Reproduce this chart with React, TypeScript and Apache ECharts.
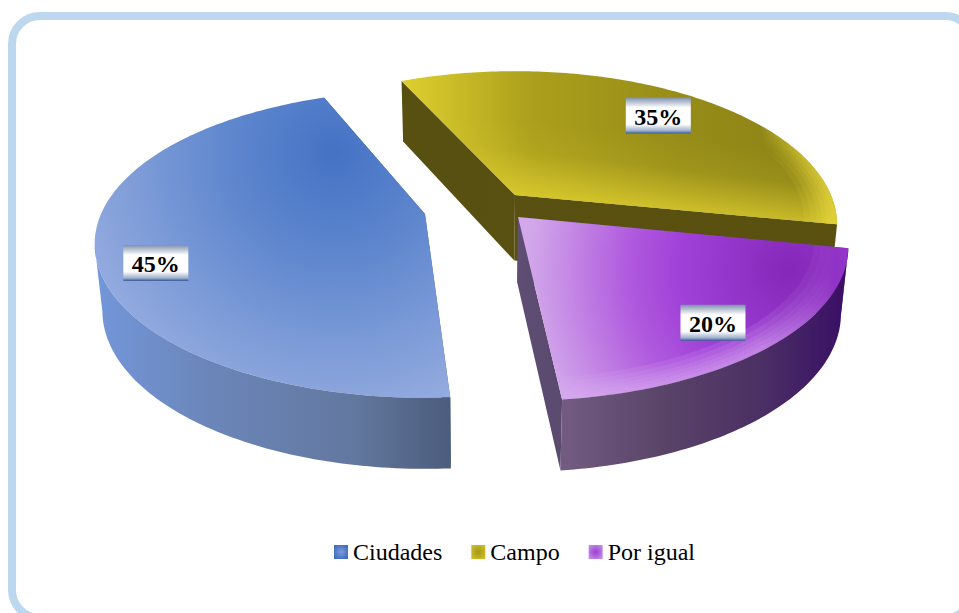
import React, { useEffect, useRef } from "react";
import * as echarts from "echarts";

const categories = ["Ciudades", "Campo", "Por igual"];
const values = [45, 35, 20];
const total = values.reduce((a, b) => a + b, 0);

// pie layout
const START_ANGLE = 176.4; // clockwise from 12 o'clock
const RX = 324;
const RY = 148;
const PERSPECTIVE = 0.195;
const VANISH_X = 480;
const VANISH = 0.02;
const DEPTH_MID = 65.5;
const DEPTH_SPREAD = 5.5;
const drawOrder = [1, 2, 0];
const apexX = [425, 515, 518];
const apexY = [214, 195, 217];
const widthScale = [1, 0.975, 1];
const spin = [0, -3.4, -2.7];
const labelRadius = [0.84, 0.785, 0.82];
const labelShift = [-9.1, -1.2, -0.5];
const glowFrom = [1, 0.62, 0];
const glowRadii = [0.9, 0.92, 0.94, 0.955, 0.97, 0.985];
const { LinearGradient, RadialGradient } = echarts.graphic as any;

const stops = (list: [number, string][]) => list.map(([offset, color]) => ({ offset, color }));
const hLin = (x1: number, x2: number, list: [number, string][]) =>
  new LinearGradient(x1, 0, x2, 0, stops(list), true);

const topFill = [
  [
    new RadialGradient(335, 152, 268, stops([[0, "#4472c4"], [0.4, "#5f87ce"], [1, "#94abdf"]]), true),
  ],
  [
    hLin(401, 836, [[0, "#dfd02f"], [0.3, "#ab9f1c"], [0.65, "#968c18"], [1, "#8a8116"]]),
    new LinearGradient(650, 135, 640, 222, stops([[0, "rgba(224,208,48,0)"], [0.35, "rgba(224,208,48,0.12)"], [1, "rgba(224,208,48,1)"]]), true),
  ],
  [
    new RadialGradient(790, 270, 262, stops([[0, "#8428b8"], [0.42, "#a040d8"], [0.62, "#b05ade"], [1, "#d2a8ea"]]), true),
  ],
];
const glowFill = [
  null,
  hLin(760, 830, [[0, "rgba(232,216,60,0)"], [1, "rgba(232,216,60,0.22)"]]),
  hLin(560, 835, [[0, "rgba(216,170,240,0.16)"], [0.72, "rgba(216,170,240,0.16)"], [1, "rgba(216,170,240,0)"]]),
];
const sideFill = [
  hLin(100, 452, [[0, "#7396d8"], [0.3, "#6b86ba"], [0.72, "#63789f"], [1, "#4b5c7c"]]),
  hLin(400, 836, [[0, "#585010"], [1, "#5a5111"]]),
  hLin(561, 845, [[0, "#735b82"], [0.35, "#5a4468"], [0.7, "#4b3064"], [1, "#3a0f66"]]),
];
const cutFill = [
  "#4d5f80",
  hLin(401, 836, [[0, "#585010"], [1, "#5a5111"]]),
  hLin(518, 562, [[0, "#5f4d74"], [1, "#5a4a6e"]]),
];
const legendFill = [
  new RadialGradient(0.5, 0.5, 0.6, stops([[0, "#7a9bdb"], [1, "#3f6cbd"]])),
  new RadialGradient(0.5, 0.5, 0.6, stops([[0, "#a39818"], [1, "#cdbd25"]])),
  new RadialGradient(0.5, 0.5, 0.6, stops([[0, "#9a3ed0"], [1, "#c48ae8"]])),
];
const labelFill = new LinearGradient(0, 0, 0, 1, stops([
  [0, "#7f90ac"], [0.28, "#ffffff"], [0.74, "#ffffff"], [0.92, "#9fb0cc"], [1, "#365a98"],
]));

type P3 = [number, number, number];

function project(i: number, angleDeg: number, radius: number): P3 {
  const t = (angleDeg * Math.PI) / 180;
  const u = Math.sin(t) * radius;
  const v = -Math.cos(t) * radius;
  const w = 1 - PERSPECTIVE * v;
  return [apexX[i] + (RX * widthScale[i] * u) / w, apexY[i] + (RY * v) / w, v];
}
function drop(p: P3): [number, number] {
  return [p[0] + (VANISH_X - p[0]) * VANISH, p[1] + DEPTH_MID + DEPTH_SPREAD * p[2]];
}
function sliceAngles(i: number): [number, number] {
  let a = START_ANGLE;
  for (let k = 0; k < i; k++) a += (values[k] / total) * 360;
  return [a + spin[i], a + spin[i] + (values[i] / total) * 360];
}

const makeRender = (i: number) => (_params: any, api: any) => {
  const value = api.value(0);
  const [a0, a1] = sliceAngles(i);
  const rim: P3[] = [];
  const steps = Math.ceil(a1 - a0);
  const angleAt = (s: number) => a0 + ((a1 - a0) * s) / steps;
  for (let s = 0; s <= steps; s++) rim.push(project(i, angleAt(s), 1));
  const apex = project(i, 0, 0);
  const apexLow = drop(apex);
  const first = rim[0];
  const last = rim[rim.length - 1];
  const pts = (p: P3) => [p[0], p[1]];
  const top = [pts(apex), ...rim.map(pts)];

  // the part of the rim that faces the viewer: from its rightmost to its leftmost point
  let iL = 0;
  let iR = 0;
  rim.forEach((p, k) => {
    if (p[0] < rim[iL][0]) iL = k;
    if (p[0] > rim[iR][0]) iR = k;
  });
  const front = rim.slice(iR, iL > iR ? iL + 1 : rim.length);
  const side = [...front.map(pts), ...front.slice().reverse().map(drop)];

  const children: any[] = [
    { type: "polygon", shape: { points: [pts(apex), pts(first), drop(first), apexLow] }, style: { fill: cutFill[i] } },
    { type: "polygon", shape: { points: [pts(apex), pts(last), drop(last), apexLow] }, style: { fill: cutFill[i] } },
  ];
  topFill[i].forEach((fill) => {
    children.push({ type: "polygon", shape: { points: top }, style: { fill } });
  });
  if (glowFill[i]) {
    const from = Math.floor(steps * glowFrom[i]);
    glowRadii.forEach((radius) => {
      const outer: number[][] = [];
      const inner: number[][] = [];
      for (let s = from; s <= steps; s++) {
        outer.push(pts(rim[s]));
        inner.unshift(pts(project(i, angleAt(s), radius)));
      }
      children.push({
        type: "polygon",
        shape: { points: [...outer, ...inner] },
        style: { fill: glowFill[i] },
      });
    });
  }
  children.push({ type: "polygon", shape: { points: side }, style: { fill: sideFill[i] } });
  const lp = project(i, (a0 + a1) / 2 - spin[i] + labelShift[i], labelRadius[i]);
  children.push({
    type: "rect",
    shape: { x: lp[0] - 32.5, y: lp[1] - 18, width: 65, height: 36 },
    style: { fill: labelFill },
  });
  children.push({
    type: "text",
    x: lp[0],
    y: lp[1] + 1,
    style: {
      text: `${value}%`,
      fill: "#000000",
      font: 'bold 24px "Liberation Serif"',
      align: "center",
      verticalAlign: "middle",
    },
  });
  return { type: "group", children };
};

export default function App() {
  const ref = useRef<HTMLDivElement>(null);
  useEffect(() => {
    const chart = echarts.init(ref.current!, undefined, { renderer: "svg" });
    chart.setOption({
      animation: false,
      backgroundColor: "#ffffff",
      graphic: [
        {
          type: "rect",
          z: -1,
          shape: { x: 12, y: 16, width: 961, height: 602, r: 28 },
          style: { fill: "#ffffff", stroke: "#bdd7ee", lineWidth: 8 },
        },
      ],
      legend: {
        left: 334,
        top: 540,
        padding: 0,
        itemWidth: 14,
        itemHeight: 14,
        itemGap: 29,
        icon: "rect",
        selectedMode: false,
        textStyle: { fontFamily: "Liberation Serif", fontSize: 24, color: "#000000" },
        data: categories.map((name, i) => ({ name, itemStyle: { color: legendFill[i] } })),
      },
      series: drawOrder.map((i) => ({
        type: "custom",
        name: categories[i],
        coordinateSystem: "none",
        silent: true,
        z: 2,
        itemStyle: { color: legendFill[i] },
        renderItem: makeRender(i),
        encode: { value: 0 },
        data: [[values[i]]],
      })),
    });
    return () => chart.dispose();
  }, []);
  return <div ref={ref} style={{ position: "fixed", left: 0, top: 0, width: 959, height: 613 }} />;
}
